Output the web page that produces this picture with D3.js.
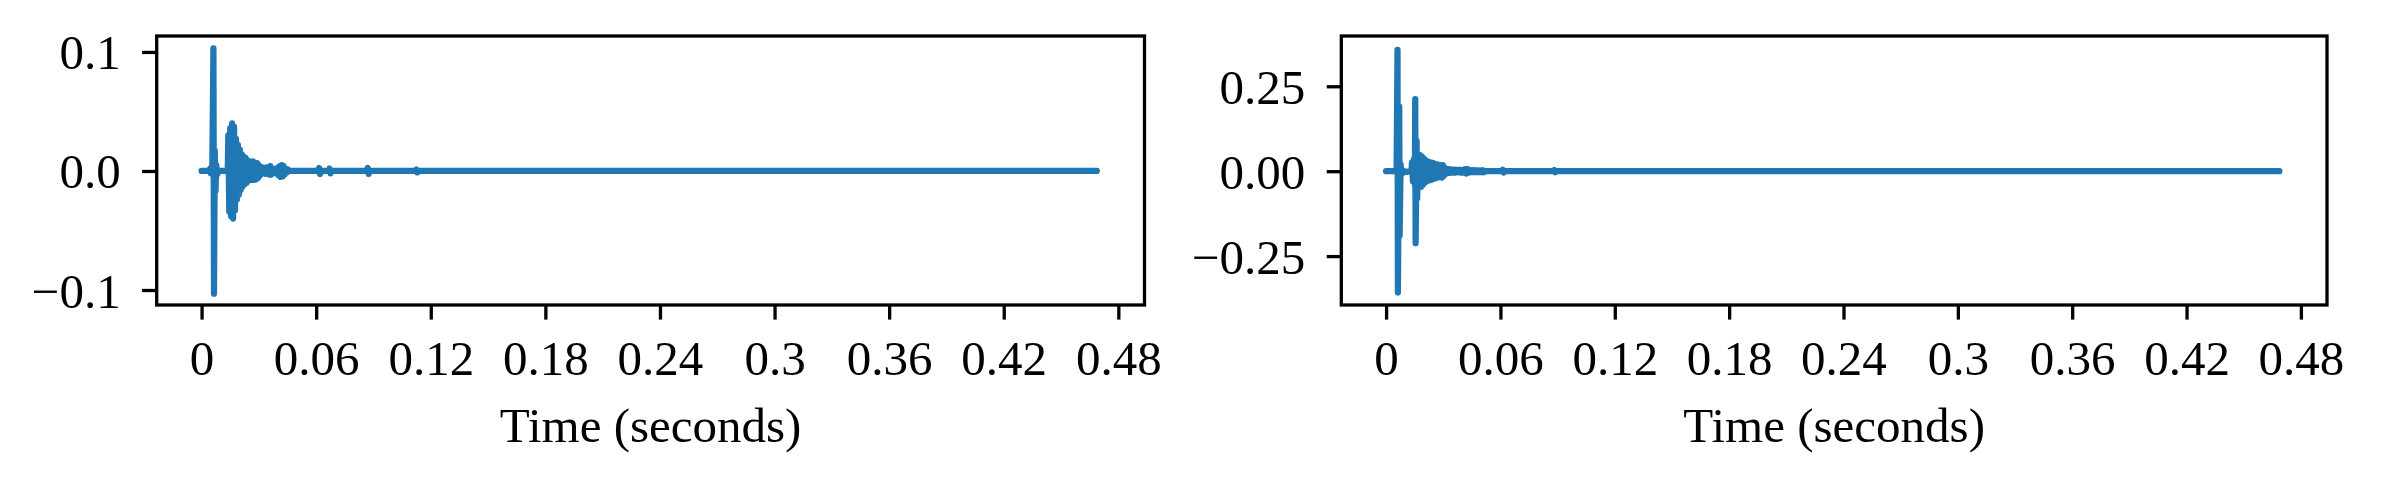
<!DOCTYPE html>
<html><head><meta charset="utf-8">
<script src="https://cdn.jsdelivr.net/npm/d3@7"></script>
<style>
html,body{margin:0;padding:0;background:#fff;}
svg text{font-family:"Liberation Serif","Times New Roman",serif;fill:#000;}
</style></head>
<body>
<svg id="chart" width="2381" height="486"></svg>
<script>
// ---- data ----
const xTickValues = [0, 0.06, 0.12, 0.18, 0.24, 0.30, 0.36, 0.42, 0.48];
const xTickLabels = ["0", "0.06", "0.12", "0.18", "0.24", "0.3", "0.36", "0.42", "0.48"];
const xLabel = "Time (seconds)";

const leftYTicks = [-0.1, 0.0, 0.1];
const leftYLabels = ["\u22120.1", "0.0", "0.1"];
const rightYTicks = [-0.25, 0.0, 0.25];
const rightYLabels = ["\u22120.25", "0.00", "0.25"];

// left signal: time (s) and amplitude
const leftTime = [0, 0.0040, 0.0044, 0.0048, 0.0056, 0.0062, 0.0065, 0.0069, 0.0073, 0.0077, 0.0081, 0.0090, 0.0137,
  0.0140, 0.0145, 0.0150, 0.0155, 0.0160, 0.0165, 0.0170, 0.0175, 0.0180, 0.0185, 0.0190, 0.0195, 0.0200, 0.0205, 0.0210, 0.0215,
  0.0220, 0.0225, 0.0230, 0.0235, 0.0240, 0.0245, 0.0250, 0.0255, 0.0260, 0.0265, 0.0270, 0.0275, 0.0280, 0.0285, 0.0290, 0.0295,
  0.0300, 0.0305, 0.0310, 0.0315, 0.0320, 0.0325, 0.0330, 0.0335, 0.0340, 0.0345, 0.0350, 0.0355, 0.0360, 0.0365, 0.0370, 0.0375,
  0.0380, 0.0385, 0.0390, 0.0395, 0.0400, 0.0405, 0.0410, 0.0415, 0.0420, 0.0425, 0.0430, 0.0435, 0.0440, 0.0445, 0.0450, 0.0460,
  0.0610, 0.0615, 0.0620, 0.0625, 0.0665, 0.0670, 0.0675, 0.0680, 0.0865, 0.0870, 0.0875, 0.0880, 0.1120, 0.1125, 0.1130, 0.1135, 0.4687];
const leftAmp = [0, 0, 0.002, -0.002, 0.001, 0.1031, -0.1031, 0.017, -0.017, 0.005, -0.003, 0, 0,
  0.030, -0.034, 0.036, -0.038, 0.040, -0.040, 0.037, -0.033, 0.027, -0.024, 0.022, -0.020, 0.018, -0.016, 0.014, -0.013,
  0.012, -0.011, 0.011, -0.010, 0.009, -0.008, 0.008, -0.007, 0.007, -0.0075, 0.008, -0.0075, 0.007, -0.007, 0.0065, -0.006,
  0.005, -0.004, 0.003, -0.0025, 0.003, -0.002, 0.002, -0.0025, 0.003, -0.002, 0.002, -0.003, 0.004, -0.003, 0.002, -0.0015,
  0.0015, -0.0015, 0.002, -0.0025, 0.003, -0.004, 0.004, -0.005, 0.005, -0.0045, 0.004, -0.003, 0.002, -0.0015, 0.0015, 0,
  0, 0.0025, -0.0025, 0, 0, 0.002, -0.002, 0, 0, 0.0025, -0.0025, 0, 0, 0.0012, -0.0012, 0, 0];

// right signal: time (s) and amplitude
const rightTime = [0, 0.0040, 0.0050, 0.0055, 0.0060, 0.0062, 0.0069, 0.0071, 0.0076, 0.0080, 0.0085, 0.0095, 0.0133,
  0.0136, 0.0141, 0.0146, 0.0151, 0.0153, 0.0155, 0.0160, 0.0163, 0.0168, 0.0173, 0.0178, 0.0183, 0.0188, 0.0193, 0.0198, 0.0203,
  0.0208, 0.0213, 0.0218, 0.0223, 0.0228, 0.0233, 0.0238, 0.0243, 0.0248, 0.0253, 0.0258, 0.0263, 0.0268, 0.0273, 0.0278, 0.0283,
  0.0288, 0.0293, 0.0298, 0.0303, 0.0308, 0.0313, 0.0318, 0.0323, 0.0328, 0.0333, 0.0338, 0.0343, 0.0348, 0.0353, 0.0358, 0.0363,
  0.0368, 0.0373, 0.0378, 0.0383, 0.0388, 0.0393, 0.0398, 0.0403, 0.0408, 0.0413, 0.0418, 0.0423, 0.0428, 0.0433, 0.0438, 0.0443,
  0.0448, 0.0453, 0.0458, 0.0463, 0.0468, 0.0473, 0.0478, 0.0483, 0.0488, 0.0493, 0.0498, 0.0503, 0.0508, 0.0513, 0.0520,
  0.0608, 0.0612, 0.0617, 0.0622, 0.0878, 0.0883, 0.0888, 0.0893, 0.4687];
const rightAmp = [0, 0, 0.003, -0.003, 0.357, -0.357, 0.19, -0.19, 0.02, -0.01, 0.004, -0.003, 0,
  0.025, -0.030, 0.035, -0.040, 0.212, -0.212, 0.09, -0.08, 0.045, -0.046, 0.047, -0.046, 0.043, -0.040, 0.037, -0.034,
  0.032, -0.030, 0.029, -0.027, 0.026, -0.026, 0.025, -0.024, 0.024, -0.022, 0.021, -0.020, 0.020, -0.018, 0.017, -0.016,
  0.018, -0.019, 0.018, -0.014, 0.010, -0.008, 0.007, -0.006, 0.006, -0.005, 0.005, -0.004, 0.004, -0.004, 0.004, -0.004,
  0.004, -0.003, 0.003, -0.003, 0.004, -0.004, 0.003, -0.004, 0.004, -0.005, 0.006, -0.007, 0.006, -0.004, 0.003, -0.003,
  0.003, -0.003, 0.0025, -0.0025, 0.0025, -0.0025, 0.002, -0.002, 0.002, -0.002, 0.002, -0.002, 0.003, -0.003, 0,
  0, 0.004, -0.004, 0, 0, 0.003, -0.003, 0, 0];

// ---- drawing ----
const svg = d3.select("#chart");
const FONT = 49;
const LINE = "#1f77b4";

function panel(cfg) {
  const x = d3.scaleLinear().domain([-0.0235, 0.4937]).range([cfg.left, cfg.right]);
  const y = d3.scaleLinear().domain(cfg.yDomain).range([cfg.bottom, cfg.top]);
  const g = svg.append("g");

  const clipId = "clip" + cfg.id;
  g.append("clipPath").attr("id", clipId).append("rect")
    .attr("x", cfg.left).attr("y", cfg.top).attr("width", cfg.right - cfg.left).attr("height", cfg.bottom - cfg.top);

  const pts = cfg.time.map((t, i) => [t, cfg.amp[i]]);
  g.append("path").datum(pts)
    .attr("clip-path", `url(#${clipId})`)
    .attr("fill", "none").attr("stroke", LINE).attr("stroke-width", 6.25)
    .attr("stroke-linejoin", "round").attr("stroke-linecap", "round")
    .attr("d", d3.line().x(d => x(d[0])).y(d => y(d[1])));

  // x axis
  const xa = d3.axisBottom(x).tickValues(xTickValues)
    .tickFormat((d, i) => xTickLabels[i]).tickSize(14.6).tickPadding(0);
  const gx = g.append("g").attr("transform", `translate(0,${cfg.bottom})`).call(xa);
  gx.select(".domain").remove();
  gx.selectAll(".tick line").attr("stroke", "#000").attr("stroke-width", 3.3);
  gx.selectAll(".tick text").attr("font-size", FONT).attr("dy", null).attr("y", 70)
    .attr("font-family", "Liberation Serif, serif");

  // y axis
  const ya = d3.axisLeft(y).tickValues(cfg.yTicks)
    .tickFormat((d, i) => cfg.yLabels[i]).tickSize(14.6).tickPadding(0);
  const gy = g.append("g").attr("transform", `translate(${cfg.left},0)`).call(ya);
  gy.select(".domain").remove();
  gy.selectAll(".tick line").attr("stroke", "#000").attr("stroke-width", 3.3);
  gy.selectAll(".tick text").attr("font-size", FONT).attr("dy", null).attr("y", 17).attr("x", -36)
    .attr("font-family", "Liberation Serif, serif");

  // frame
  g.append("rect").attr("x", cfg.left).attr("y", cfg.top)
    .attr("width", cfg.right - cfg.left).attr("height", cfg.bottom - cfg.top)
    .attr("fill", "none").attr("stroke", "#000").attr("stroke-width", 3.3);

  g.append("text").attr("x", (cfg.left + cfg.right) / 2).attr("y", 441.7)
    .attr("text-anchor", "middle").attr("font-size", FONT).text(xLabel);
}

panel({id: "L", left: 156.7, right: 1144.5, top: 36, bottom: 305,
  yDomain: [-0.1126, 0.1134], yTicks: leftYTicks, yLabels: leftYLabels, time: leftTime, amp: leftAmp});
panel({id: "R", left: 1341.3, right: 2327, top: 36, bottom: 305,
  yDomain: [-0.394, 0.398], yTicks: rightYTicks, yLabels: rightYLabels, time: rightTime, amp: rightAmp});
</script>
</body></html>
